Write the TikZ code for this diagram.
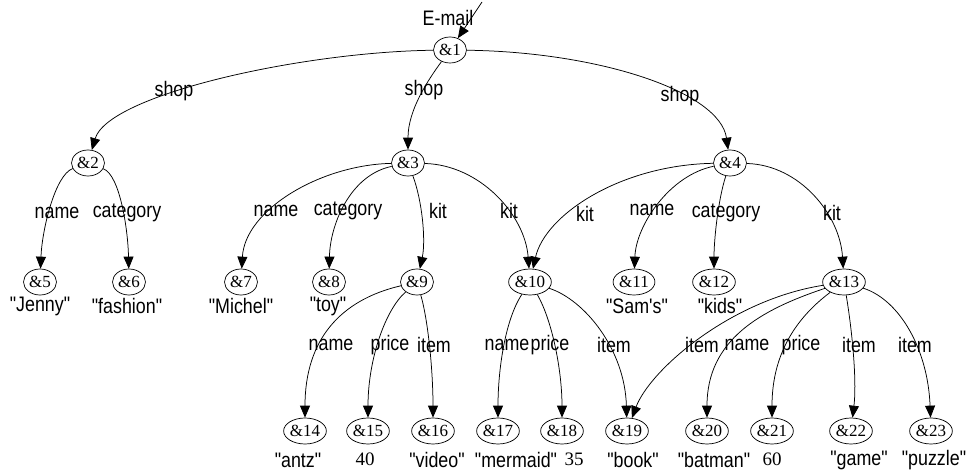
\documentclass[tikz,border=0pt]{standalone}
\usepackage{fontspec}
\usetikzlibrary{shapes.geometric,arrows.meta}
\newfontfamily\labfont{Liberation Sans}[Ligatures=TeXOff,FakeStretch=0.85]
\newfontfamily\serffont{Liberation Serif}
\begin{document}
\begin{tikzpicture}[x=1pt,y=-1pt,
  obj/.style={draw,ellipse,line width=0.7pt,minimum width=33pt,minimum height=26pt,inner sep=0pt,font=\serffont\fontsize{17}{17}\selectfont},
  edge/.style={line width=0.75pt,-{Triangle[length=12pt,width=10pt]}},
  lab/.style={inner sep=0pt,font=\labfont\fontsize{21}{21}\selectfont},
  num/.style={inner sep=0pt,font=\serffont\fontsize{19}{19}\selectfont}]
\useasboundingbox (0,0) rectangle (970,473);
% nodes
\node[obj] (n1) at (450,50) {\&1};
\node[obj] (n2) at (88,163) {\&2};
\node[obj] (n3) at (408,163) {\&3};
\node[obj] (n4) at (730,163) {\&4};
\node[obj] (n5) at (40,282) {\&5};
\node[obj] (n6) at (129,282) {\&6};
\node[obj] (n7) at (241,282) {\&7};
\node[obj] (n8) at (329,282) {\&8};
\node[obj] (n9) at (417,282) {\&9};
\node[obj] (n10) at (530,282) {\&10};
\node[obj] (n11) at (634,282) {\&11};
\node[obj] (n12) at (714,282) {\&12};
\node[obj] (n13) at (844,282) {\&13};
\node[obj] (n14) at (305,431) {\&14};
\node[obj] (n15) at (368,431) {\&15};
\node[obj] (n16) at (433,431) {\&16};
\node[obj] (n17) at (498,431) {\&17};
\node[obj] (n18) at (562,431) {\&18};
\node[obj] (n19) at (627,431) {\&19};
\node[obj] (n20) at (707,431) {\&20};
\node[obj] (n21) at (772,431) {\&21};
\node[obj] (n22) at (851,431) {\&22};
\node[obj] (n23) at (931,431) {\&23};
% root label and entry arrow
\node[lab] (root) at (448,18) {E-mail};
\coordinate (src) at (482,2);
\draw[edge] (src) -- (n1);
% top edges
\draw[edge] (n1) .. controls (300,52) and (108,95) .. (n2);
\draw[edge] (n1) .. controls (428,80) and (408,110) .. (n3);
\draw[edge] (n1) .. controls (600,52) and (720,92) .. (n4);
% second level
\draw[edge] (n2) .. controls (55,175) and (42,230) .. (n5);
\draw[edge] (n2) .. controls (120,175) and (128,230) .. (n6);
\draw[edge] (n3) .. controls (320,165) and (245,210) .. (n7);
\draw[edge] (n3) .. controls (350,175) and (330,225) .. (n8);
\draw[edge] (n3) .. controls (422,200) and (426,240) .. (n9);
\draw[edge] (n3) .. controls (480,165) and (525,215) .. (n10);
\draw[edge] (n4) .. controls (620,165) and (545,215) .. (n10);
\draw[edge] (n4) .. controls (670,175) and (636,225) .. (n11);
\draw[edge] (n4) .. controls (718,200) and (714,240) .. (n12);
\draw[edge] (n4) .. controls (800,165) and (840,215) .. (n13);
% third level
\draw[edge] (n9) .. controls (340,300) and (305,340) .. (n14);
\draw[edge] (n9) .. controls (385,310) and (368,360) .. (n15);
\draw[edge] (n9) .. controls (428,320) and (433,370) .. (n16);
\draw[edge] (n10) .. controls (505,320) and (498,370) .. (n17);
\draw[edge] (n10) .. controls (552,320) and (562,370) .. (n18);
\draw[edge] (n10) .. controls (585,300) and (625,350) .. (n19);
\draw[edge] (n13) .. controls (730,300) and (650,370) .. (n19);
\draw[edge] (n13) .. controls (760,310) and (707,340) .. (n20);
\draw[edge] (n13) .. controls (800,315) and (772,350) .. (n21);
\draw[edge] (n13) .. controls (852,330) and (857,380) .. (n22);
\draw[edge] (n13) .. controls (900,300) and (928,350) .. (n23);
% edge labels
\node[lab] (l1) at (174,91) {shop};
\node[lab] (l2) at (424,90) {shop};
\node[lab] (l3) at (680,96) {shop};
\node[lab] (l4) at (57,213) {name};
\node[lab] (l5) at (127,213) {category};
\node[lab] (l6) at (276,211) {name};
\node[lab] (l7) at (348,211) {category};
\node[lab] (l8) at (438,211) {kit};
\node[lab] (l9) at (509,211) {kit};
\node[lab] (l10) at (585,214) {kit};
\node[lab] (l11) at (652,210) {name};
\node[lab] (l12) at (726,213) {category};
\node[lab] (l13) at (832,213) {kit};
\node[lab] (l14) at (331,345) {name};
\node[lab] (l15) at (390,345) {price};
\node[lab] (l16) at (434,345) {item};
\node[lab] (l17) at (507,345) {name};
\node[lab] (l18) at (550,345) {price};
\node[lab] (l19) at (614,345) {item};
\node[lab] (l20) at (702,345) {item};
\node[lab] (l21) at (747,345) {name};
\node[lab] (l22) at (801,345) {price};
\node[lab] (l23) at (859,345) {item};
\node[lab] (l24) at (915,345) {item};
% value labels
\node[lab] (v5) at (40,306) {"Jenny"};
\node[lab] (v6) at (127,306) {"fashion"};
\node[lab] (v7) at (241,306) {"Michel"};
\node[lab] (v8) at (328,306) {"toy"};
\node[lab] (v11) at (637,306) {"Sam's"};
\node[lab] (v12) at (720,306) {"kids"};
\node[lab] (v14) at (298,460) {"antz"};
\node[num] (v15) at (365,459) {40};
\node[lab] (v16) at (437,460) {"video"};
\node[lab] (v17) at (516,460) {"mermaid"};
\node[num] (v18) at (574,459) {35};
\node[lab] (v19) at (633,460) {"book"};
\node[lab] (v20) at (714,460) {"batman"};
\node[num] (v21) at (772,459) {60};
\node[lab] (v22) at (859,460) {"game"};
\node[lab] (v23) at (934,460) {"puzzle"};
\end{tikzpicture}
\end{document}
